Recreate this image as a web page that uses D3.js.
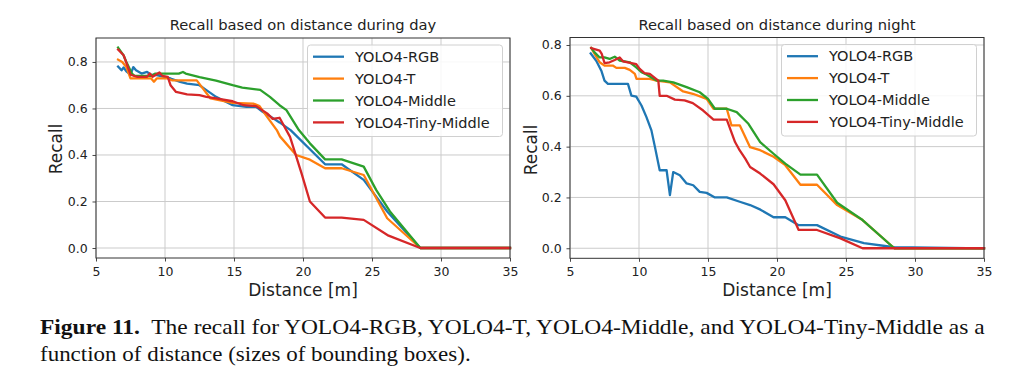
<!DOCTYPE html>
<html>
<head>
<meta charset="utf-8">
<script src="https://cdn.jsdelivr.net/npm/d3@7"></script>
<style>
  html, body { margin: 0; padding: 0; background: #fff; }
  svg { display: block; }
</style>
</head>
<body>
<svg id="chart" width="1024" height="385"></svg>
<script>
// ---------------- DATA ----------------
const seriesNames = ["YOLO4-RGB", "YOLO4-T", "YOLO4-Middle", "YOLO4-Tiny-Middle"];
const seriesColors = ["#1f77b4", "#ff7f0e", "#2ca02c", "#d62728"];
const xTicks = [5, 10, 15, 20, 25, 30, 35];
const yTicks = [0.0, 0.2, 0.4, 0.6, 0.8];
const chartTitles = ["Recall based on distance during day", "Recall based on distance during night"];

// Day chart
const dayRgbDist   = [6.6, 6.85, 7.0, 7.2, 7.5, 7.7, 7.9, 8.3, 8.7, 9.0, 9.4, 10.0, 10.4, 11.1, 11.6, 12.5, 13.0, 13.7, 14.9, 15.9, 16.6, 17.1, 17.6, 18.3, 19.1, 21.6, 22.8, 24.4, 26.1, 28.5, 35];
const dayRgbRecall = [0.78, 0.764, 0.776, 0.76, 0.745, 0.778, 0.764, 0.75, 0.757, 0.745, 0.743, 0.735, 0.729, 0.714, 0.707, 0.70, 0.679, 0.65, 0.614, 0.607, 0.607, 0.585, 0.567, 0.54, 0.507, 0.36, 0.36, 0.293, 0.157, 0.0, 0.0];

const dayTDist   = [6.6, 6.9, 7.2, 7.5, 9.0, 9.2, 9.4, 10.2, 10.5, 12.3, 13.3, 14.9, 16.4, 16.85, 17.4, 18.1, 18.33, 19.5, 20.5, 21.6, 22.8, 24.4, 26.1, 28.5, 35];
const dayTRecall = [0.81, 0.80, 0.778, 0.729, 0.729, 0.715, 0.729, 0.729, 0.721, 0.721, 0.643, 0.624, 0.621, 0.61, 0.564, 0.507, 0.48, 0.40, 0.38, 0.343, 0.343, 0.314, 0.128, 0.0, 0.0];

const dayMidDist   = [6.6, 7.0, 7.2, 7.6, 7.8, 9.0, 9.3, 11.0, 11.3, 11.5, 12.5, 13.7, 14.9, 15.6, 16.9, 17.6, 18.3, 18.8, 19.7, 20.5, 21.6, 22.8, 24.4, 25.3, 26.3, 28.5, 35];
const dayMidRecall = [0.862, 0.828, 0.80, 0.75, 0.74, 0.74, 0.75, 0.75, 0.757, 0.75, 0.735, 0.72, 0.70, 0.69, 0.68, 0.65, 0.614, 0.593, 0.507, 0.45, 0.381, 0.381, 0.35, 0.25, 0.157, 0.0, 0.0];

const dayTinyDist   = [6.6, 7.0, 7.3, 7.5, 8.0, 8.7, 8.9, 9.1, 9.6, 9.8, 10.2, 10.4, 10.8, 11.6, 12.5, 13.0, 13.7, 14.9, 15.7, 16.6, 17.4, 17.8, 18.3, 19.06, 19.9, 20.5, 21.6, 22.8, 24.4, 26.2, 28.5, 35];
const dayTinyRecall = [0.853, 0.829, 0.78, 0.745, 0.736, 0.736, 0.75, 0.736, 0.755, 0.74, 0.736, 0.70, 0.671, 0.661, 0.657, 0.65, 0.643, 0.631, 0.614, 0.61, 0.579, 0.555, 0.56, 0.478, 0.32, 0.2, 0.131, 0.131, 0.121, 0.053, 0.0, 0.0];

// Night chart
const nightRgbDist   = [6.5, 6.9, 7.27, 7.5, 7.75, 9.2, 9.45, 9.8, 10.18, 10.54, 10.9, 11.15, 11.5, 12.0, 12.24, 12.48, 12.96, 13.45, 13.93, 14.4, 14.9, 15.5, 16.36, 17.3, 18.05, 18.8, 19.75, 20.6, 21.57, 22.9, 24.6, 26.3, 28.5, 35];
const nightRgbRecall = [0.767, 0.738, 0.699, 0.66, 0.647, 0.647, 0.601, 0.597, 0.562, 0.516, 0.464, 0.40, 0.307, 0.307, 0.209, 0.30, 0.287, 0.255, 0.248, 0.222, 0.218, 0.20, 0.20, 0.183, 0.17, 0.152, 0.122, 0.122, 0.091, 0.091, 0.046, 0.02, 0.004, 0.0];

const nightTDist   = [6.54, 6.78, 7.15, 7.5, 8.1, 8.36, 8.97, 9.33, 9.7, 9.82, 10.78, 11.27, 12.24, 13.2, 13.9, 14.9, 15.4, 16.36, 16.7, 17.3, 18.05, 18.78, 19.75, 20.6, 21.7, 22.9, 24.36, 26.2, 28.5, 35];
const nightTRecall = [0.788, 0.765, 0.732, 0.719, 0.719, 0.71, 0.71, 0.702, 0.686, 0.667, 0.667, 0.66, 0.653, 0.617, 0.608, 0.588, 0.549, 0.549, 0.484, 0.484, 0.398, 0.386, 0.36, 0.327, 0.25, 0.25, 0.17, 0.111, 0.0, 0.0];

const nightMidDist   = [6.54, 6.78, 7.15, 7.5, 7.87, 8.24, 8.6, 9.33, 9.8, 10.18, 10.54, 11.27, 11.75, 12.48, 13.45, 14.4, 15.0, 15.5, 16.36, 17.08, 17.93, 18.78, 19.75, 20.6, 21.7, 22.9, 24.36, 26.2, 28.5, 35];
const nightMidRecall = [0.788, 0.771, 0.751, 0.751, 0.745, 0.754, 0.739, 0.732, 0.712, 0.693, 0.684, 0.66, 0.66, 0.653, 0.634, 0.614, 0.588, 0.549, 0.549, 0.536, 0.49, 0.418, 0.372, 0.333, 0.29, 0.29, 0.179, 0.111, 0.0, 0.0];

const nightTinyDist   = [6.54, 6.78, 7.15, 7.3, 7.5, 7.87, 8.24, 8.6, 8.84, 9.45, 9.8, 10.05, 10.4, 10.78, 11.4, 11.5, 12.0, 12.6, 13.3, 13.9, 14.65, 15.4, 16.36, 16.96, 17.3, 17.7, 18.05, 18.78, 19.75, 20.6, 21.57, 22.9, 24.6, 26.2, 35];
const nightTinyRecall = [0.788, 0.784, 0.778, 0.765, 0.729, 0.732, 0.741, 0.751, 0.736, 0.729, 0.725, 0.706, 0.689, 0.686, 0.66, 0.60, 0.60, 0.585, 0.582, 0.571, 0.542, 0.506, 0.506, 0.418, 0.385, 0.353, 0.32, 0.294, 0.252, 0.189, 0.072, 0.072, 0.039, 0.0, 0.0];

const captionBold = "Figure 11.";
const captionLine1 = "The recall for YOLO4-RGB, YOLO4-T, YOLO4-Middle, and YOLO4-Tiny-Middle as a";
const captionLine2 = "function of distance (sizes of bounding boxes).";

// ---------------- DRAW ----------------
const svg = d3.select("#chart");
svg.append("rect").attr("width", 1024).attr("height", 385).attr("fill", "#fff");

const FONT = "'DejaVu Sans', sans-serif";

const charts = [
  {
    title: chartTitles[0], left: 96, right: 510, top: 38, bottom: 258,
    yDomain: [-0.043, 0.903], ylabX: 61.7, ylabY: 149,
    series: [[dayRgbDist, dayRgbRecall], [dayTDist, dayTRecall], [dayMidDist, dayMidRecall], [dayTinyDist, dayTinyRecall]]
  },
  {
    title: chartTitles[1], left: 570, right: 984, top: 37.5, bottom: 258.3,
    yDomain: [-0.0395, 0.8295], ylabX: 536.7, ylabY: 150,
    series: [[nightRgbDist, nightRgbRecall], [nightTDist, nightTRecall], [nightMidDist, nightMidRecall], [nightTinyDist, nightTinyRecall]]
  }
];

charts.forEach((c, ci) => {
  const x = d3.scaleLinear().domain([5, 35]).range([c.left, c.right]);
  const y = d3.scaleLinear().domain(c.yDomain).range([c.bottom, c.top]);
  const g = svg.append("g");

  // grid
  g.append("g").selectAll("line.vx").data(xTicks).join("line")
    .attr("x1", d => x(d)).attr("x2", d => x(d))
    .attr("y1", c.top).attr("y2", c.bottom)
    .attr("stroke", "#cbcbcb").attr("stroke-width", 1);
  g.append("g").selectAll("line.hy").data(yTicks).join("line")
    .attr("x1", c.left).attr("x2", c.right)
    .attr("y1", d => y(d)).attr("y2", d => y(d))
    .attr("stroke", "#cbcbcb").attr("stroke-width", 1);

  // lines
  const lineGen = d3.line().x(d => x(d[0])).y(d => y(d[1]));
  c.series.forEach((s, si) => {
    const pts = s[0].map((d, i) => [d, s[1][i]]);
    g.append("path").datum(pts)
      .attr("d", lineGen)
      .attr("fill", "none")
      .attr("stroke", seriesColors[si])
      .attr("stroke-width", 2.3)
      .attr("stroke-linejoin", "round")
      .attr("stroke-linecap", "square");
  });

  // axes
  const fs = 12.5;
  const xAxis = g.append("g").attr("transform", `translate(0,${c.bottom})`)
    .call(d3.axisBottom(x).tickValues(xTicks).tickFormat(d3.format("d")).tickSize(3.5).tickPadding(5.5).tickSizeOuter(0));
  const yAxis = g.append("g").attr("transform", `translate(${c.left},0)`)
    .call(d3.axisLeft(y).tickValues(yTicks).tickFormat(d3.format(".1f")).tickSize(3.5).tickPadding(4.8).tickSizeOuter(0));
  [xAxis, yAxis].forEach(a => {
    a.select(".domain").remove();
    a.selectAll(".tick line").attr("stroke", "#333").attr("stroke-width", 0.9);
    a.selectAll(".tick text").attr("fill", "#222").style("font-family", FONT).style("font-size", fs + "px");
  });

  // frame
  g.append("rect").attr("x", c.left).attr("y", c.top)
    .attr("width", c.right - c.left).attr("height", c.bottom - c.top)
    .attr("fill", "none").attr("stroke", "#333").attr("stroke-width", 1);

  // title
  g.append("text").attr("x", (c.left + c.right) / 2).attr("y", 30)
    .attr("text-anchor", "middle").attr("fill", "#222")
    .style("font-family", FONT).style("font-size", "14.7px").text(c.title);

  // x label
  g.append("text").attr("x", (c.left + c.right) / 2).attr("y", 295.5)
    .attr("text-anchor", "middle").attr("fill", "#222")
    .style("font-family", FONT).style("font-size", "17px").text("Distance [m]");

  // y label
  g.append("text").attr("transform", `translate(${c.ylabX},${c.ylabY}) rotate(-90)`)
    .attr("text-anchor", "middle").attr("fill", "#222")
    .style("font-family", FONT).style("font-size", "17px").text("Recall");

  // legend
  const lw = 195, lh = 91.5;
  const lx = c.right - 7.5 - lw, ly = c.top + 7;
  const leg = g.append("g");
  leg.append("rect").attr("x", lx).attr("y", ly).attr("width", lw).attr("height", lh)
    .attr("rx", 3).attr("fill", "#fff").attr("fill-opacity", 0.85)
    .attr("stroke", "#d0d0d0").attr("stroke-width", 1);
  seriesNames.forEach((name, i) => {
    const yy = ly + 11.7 + i * 21.9;
    leg.append("line").attr("x1", lx + 5.5).attr("x2", lx + 36.5)
      .attr("y1", yy).attr("y2", yy)
      .attr("stroke", seriesColors[i]).attr("stroke-width", 2.3);
    leg.append("text").attr("x", lx + 47.5).attr("y", yy).attr("dy", "0.36em")
      .attr("fill", "#222").style("font-family", FONT).style("font-size", "14.5px").text(name);
  });
});

// caption
const capFont = "'Liberation Serif', 'Times New Roman', serif";
function fitLine(textSel, x0, target) {
  const w = textSel.node().getComputedTextLength();
  const sx = target / w;
  textSel.attr("transform", `translate(${x0},0) scale(${sx},1) translate(${-x0},0)`);
}
const cap1 = svg.append("text").attr("x", 40).attr("y", 334)
  .attr("fill", "#111").style("font-family", capFont).style("font-size", "21px");
cap1.append("tspan").attr("font-weight", "bold").text(captionBold);
cap1.append("tspan").text("\u00a0 " + captionLine1);
fitLine(cap1, 40, 945);

const cap2 = svg.append("text").attr("x", 40).attr("y", 361)
  .attr("fill", "#111").style("font-family", capFont).style("font-size", "21px")
  .text(captionLine2);
fitLine(cap2, 40, 431);
</script>
</body>
</html>
